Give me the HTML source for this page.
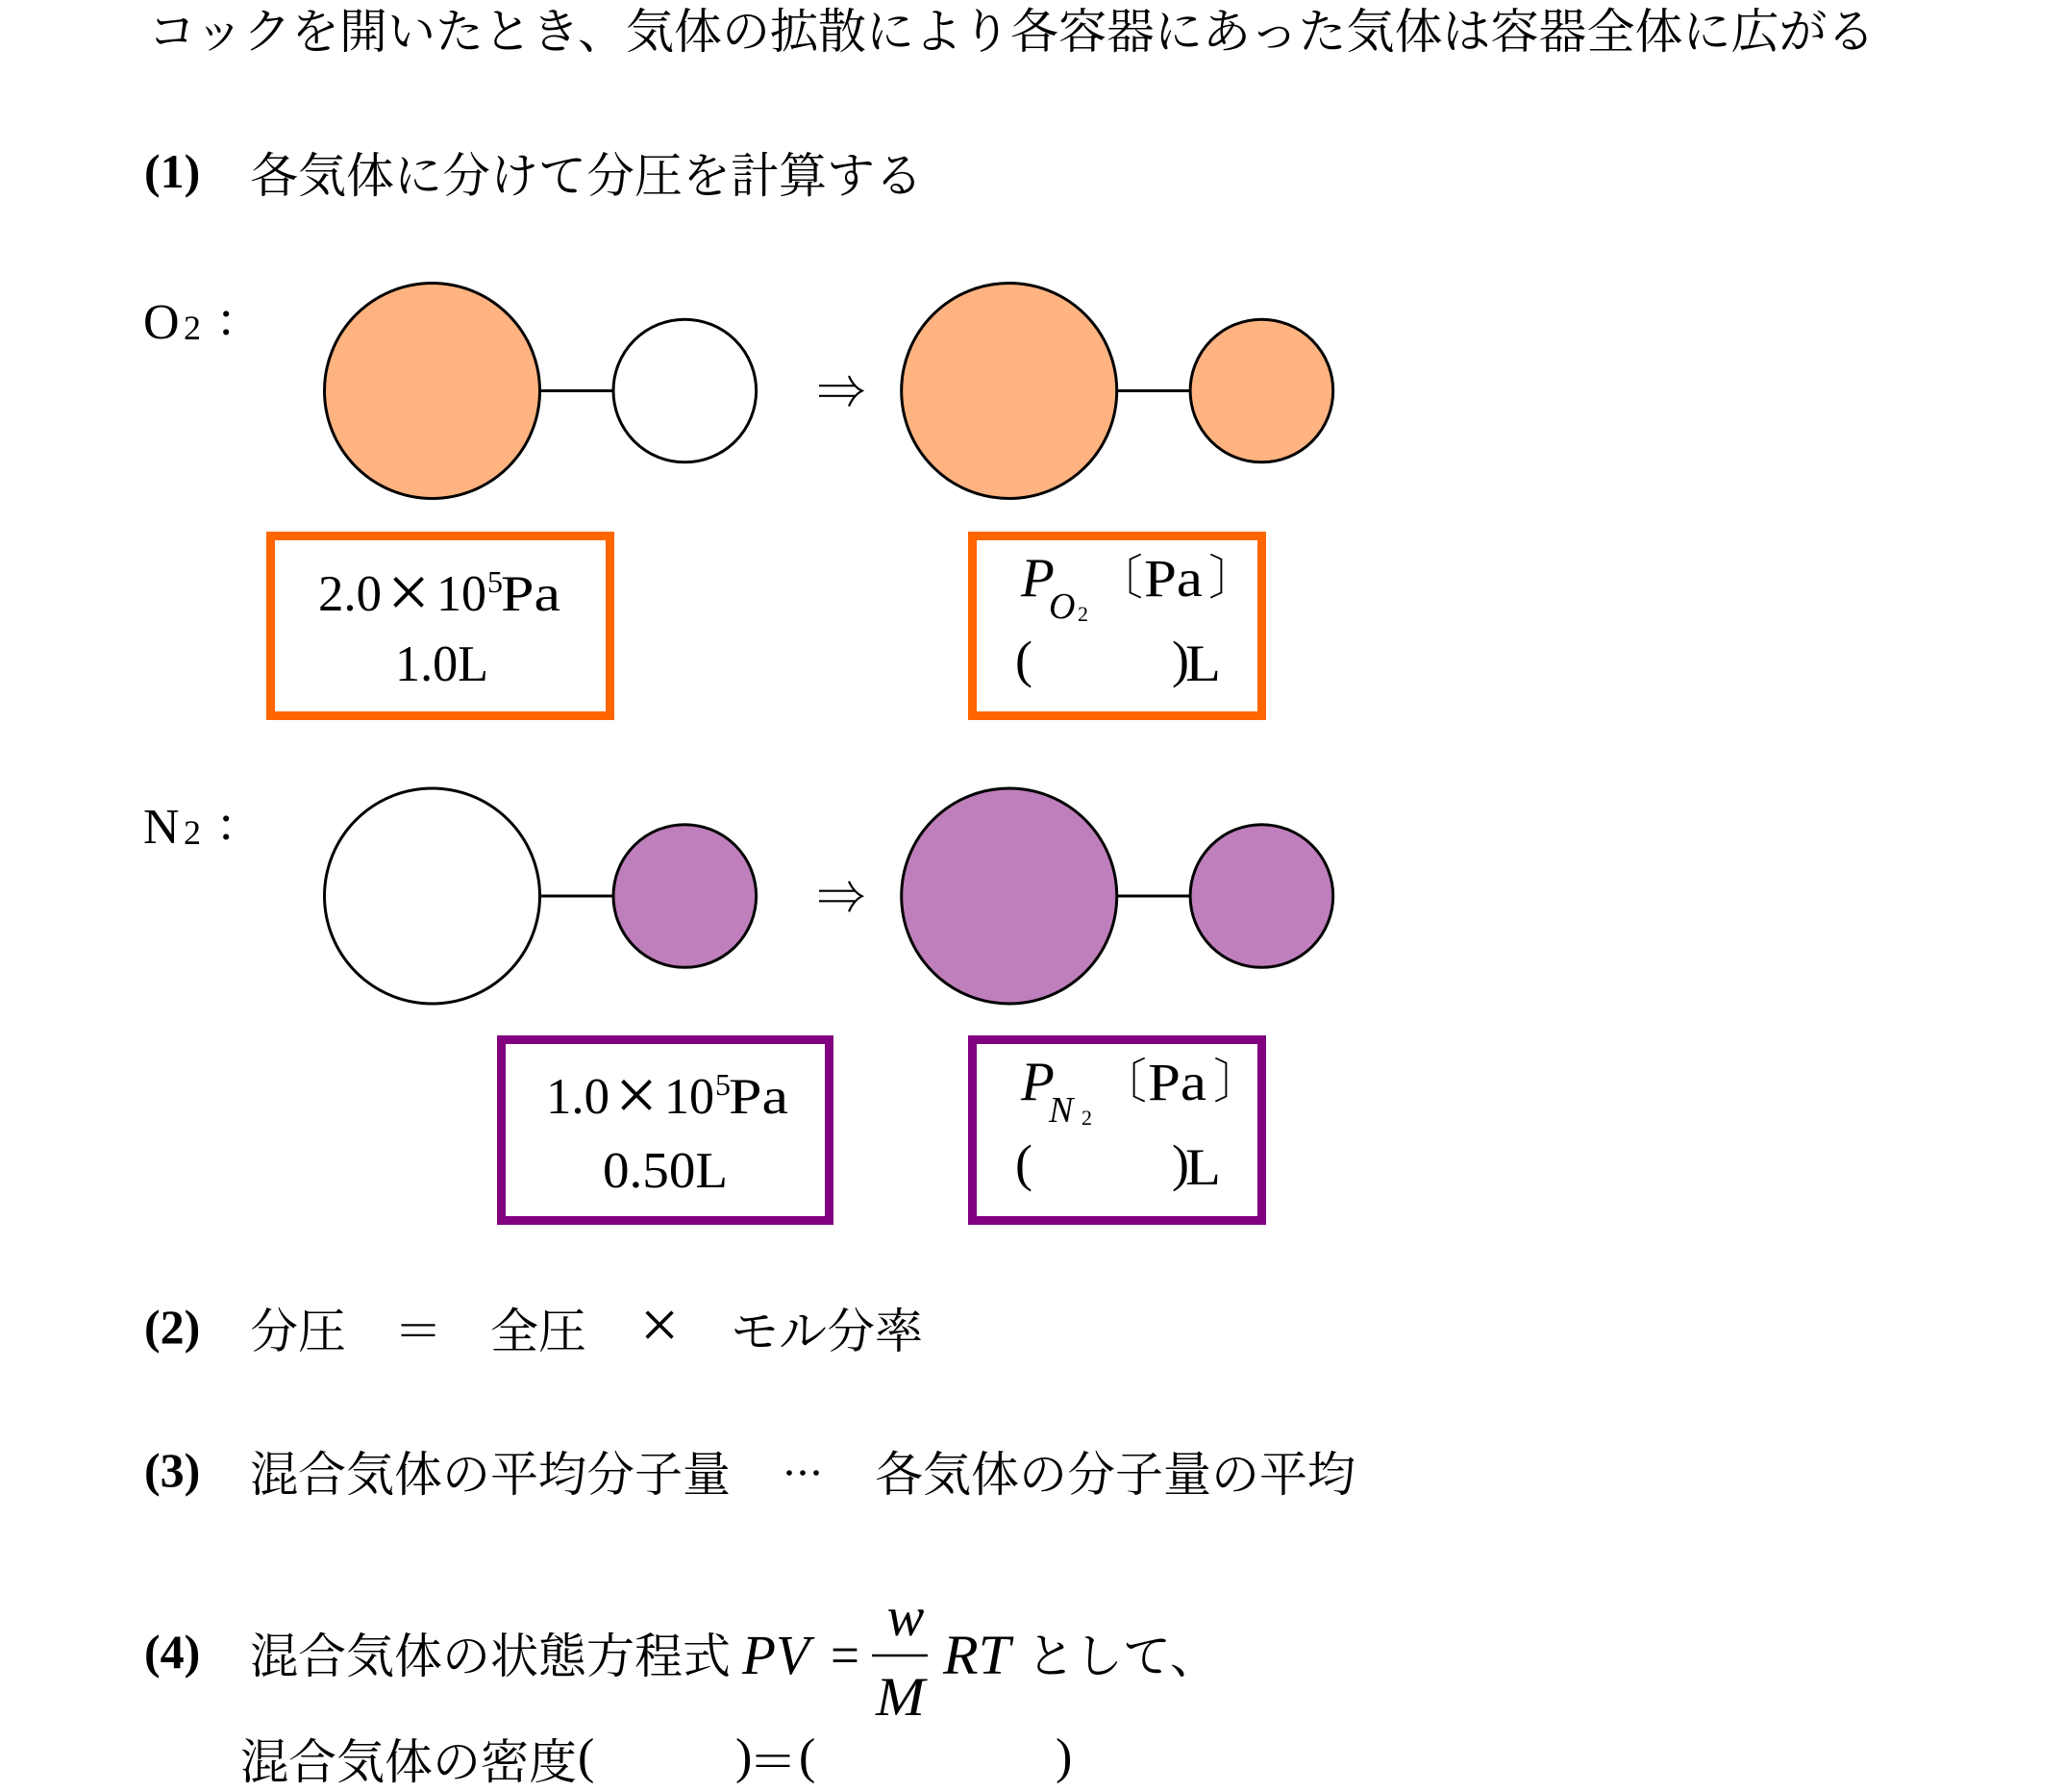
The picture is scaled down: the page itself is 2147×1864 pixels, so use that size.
<!DOCTYPE html>
<html>
<head>
<meta charset="utf-8">
<style>
html,body{margin:0;padding:0;background:#fff;}
svg{display:block;}
.s{font-family:"Liberation Serif","Noto Serif CJK JP","Noto Serif CJK SC",serif;fill:#000;}
.j{font-family:"Liberation Serif","Noto Serif CJK JP","IPAMincho","IPAPMincho","Noto Serif CJK SC",serif;font-size:50px;fill:#000;}
.i{font-family:"Liberation Serif","Noto Serif CJK SC",serif;font-style:italic;fill:#000;}
.b{font-family:"Liberation Serif","Noto Serif CJK SC",serif;font-weight:bold;font-size:50px;fill:#000;}
</style>
</head>
<body>
<svg width="2147" height="1864" viewBox="0 0 2147 1864" xmlns="http://www.w3.org/2000/svg">
<rect x="0" y="0" width="2147" height="1864" fill="#fff"/>

<!-- title -->
<text class="j" x="154" y="50">コックを開いたとき、気体の拡散により各容器にあった気体は容器全体に広がる</text>

<!-- (1) -->
<text class="b" x="150" y="195">(1)</text>
<text class="j" x="260" y="200">各気体に分けて分圧を計算する</text>

<!-- O2 label -->
<text class="s" x="149" y="352" font-size="52">O</text>
<text class="s" x="191" y="353" font-size="36">2</text>
<text class="s" x="228" y="348" font-size="52">:</text>

<!-- O2 row -->
<line x1="561" y1="406.5" x2="638" y2="406.5" stroke="#000" stroke-width="3"/>
<circle cx="449.5" cy="406.5" r="112" fill="#FFB380" stroke="#000" stroke-width="3"/>
<circle cx="712.3" cy="406.5" r="74.3" fill="#fff" stroke="#000" stroke-width="3"/>
<path d="M852 401.2 H889 M852 411.8 H889 M883 391 Q888 402.5 896.7 406.5 Q888 411 883 422.5" fill="none" stroke="#000" stroke-width="2.2"/>
<line x1="1161" y1="406.5" x2="1238" y2="406.5" stroke="#000" stroke-width="3"/>
<circle cx="1049.7" cy="406.5" r="112" fill="#FFB380" stroke="#000" stroke-width="3"/>
<circle cx="1312.4" cy="406.5" r="74.3" fill="#FFB380" stroke="#000" stroke-width="3"/>

<!-- O2 boxes -->
<rect x="281.5" y="557.5" width="353" height="187" fill="#fff" stroke="#FF6600" stroke-width="9"/>
<text class="s" x="331" y="635" font-size="53" textLength="66" lengthAdjust="spacingAndGlyphs">2.0</text>
<text class="s" x="425" y="642" font-size="78" text-anchor="middle">×</text>
<text class="s" x="454" y="635" font-size="53" textLength="52" lengthAdjust="spacingAndGlyphs">10</text>
<text class="s" x="507" y="616" font-size="32">5</text>
<text class="s" x="521" y="635" font-size="53" textLength="62" lengthAdjust="spacingAndGlyphs">Pa</text>
<text class="s" x="411" y="708" font-size="53" textLength="97" lengthAdjust="spacingAndGlyphs">1.0L</text>

<rect x="1011.5" y="557.5" width="301" height="187" fill="#fff" stroke="#FF6600" stroke-width="9"/>
<text class="i" x="1062" y="620" font-size="57">P</text>
<text class="i" x="1091" y="643" font-size="38">O</text>
<text class="s" x="1121" y="646" font-size="22">2</text>
<text class="j" x="1139" y="618" font-size="50">〔</text>
<text class="s" x="1190" y="620" font-size="55" textLength="61" lengthAdjust="spacingAndGlyphs">Pa</text>
<text class="j" x="1257" y="618" font-size="50">〕</text>
<text class="s" x="1056" y="704" font-size="54">(</text>
<text class="s" x="1219" y="704" font-size="54">)</text>
<text class="s" x="1233" y="708" font-size="54" textLength="37" lengthAdjust="spacingAndGlyphs">L</text>

<!-- N2 label -->
<text class="s" x="149" y="877" font-size="52">N</text>
<text class="s" x="191" y="878" font-size="36">2</text>
<text class="s" x="228" y="873" font-size="52">:</text>

<!-- N2 row -->
<line x1="561" y1="932" x2="638" y2="932" stroke="#000" stroke-width="3"/>
<circle cx="449.5" cy="932" r="112" fill="#fff" stroke="#000" stroke-width="3"/>
<circle cx="712.3" cy="932" r="74.3" fill="#BF7FBC" stroke="#000" stroke-width="3"/>
<path d="M852 926.7 H889 M852 937.3 H889 M883 916.7 Q888 928 896.7 932.2 Q888 936.5 883 948.3" fill="none" stroke="#000" stroke-width="2.2"/>
<line x1="1161" y1="932" x2="1238" y2="932" stroke="#000" stroke-width="3"/>
<circle cx="1049.7" cy="932" r="112" fill="#BF7FBC" stroke="#000" stroke-width="3"/>
<circle cx="1312.4" cy="932" r="74.3" fill="#BF7FBC" stroke="#000" stroke-width="3"/>

<!-- N2 boxes -->
<rect x="521.5" y="1081.5" width="341" height="188" fill="#fff" stroke="#800080" stroke-width="9"/>
<text class="s" x="568" y="1158" font-size="53" textLength="66" lengthAdjust="spacingAndGlyphs">1.0</text>
<text class="s" x="662" y="1165" font-size="78" text-anchor="middle">×</text>
<text class="s" x="691" y="1158" font-size="53" textLength="52" lengthAdjust="spacingAndGlyphs">10</text>
<text class="s" x="744" y="1139" font-size="32">5</text>
<text class="s" x="758" y="1158" font-size="53" textLength="62" lengthAdjust="spacingAndGlyphs">Pa</text>
<text class="s" x="627" y="1235" font-size="53" textLength="130" lengthAdjust="spacingAndGlyphs">0.50L</text>

<rect x="1011.5" y="1081.5" width="301" height="188" fill="#fff" stroke="#800080" stroke-width="9"/>
<text class="i" x="1062" y="1144" font-size="57">P</text>
<text class="i" x="1091" y="1167" font-size="38">N</text>
<text class="s" x="1125" y="1170" font-size="22">2</text>
<text class="j" x="1143" y="1142" font-size="50">〔</text>
<text class="s" x="1194" y="1144" font-size="55" textLength="61" lengthAdjust="spacingAndGlyphs">Pa</text>
<text class="j" x="1262" y="1142" font-size="50">〕</text>
<text class="s" x="1056" y="1228" font-size="54">(</text>
<text class="s" x="1219" y="1228" font-size="54">)</text>
<text class="s" x="1233" y="1232" font-size="54" textLength="37" lengthAdjust="spacingAndGlyphs">L</text>

<!-- (2) -->
<text class="b" x="150" y="1397">(2)</text>
<text class="j" x="260" y="1402">分圧　＝　全圧</text>
<text class="s" x="686" y="1402" font-size="72" text-anchor="middle">×</text>
<text class="j" x="760" y="1402">モル分率</text>

<!-- (3) -->
<text class="b" x="150" y="1546">(3)</text>
<text class="j" x="260" y="1551">混合気体の平均分子量</text>
<circle cx="821" cy="1532" r="2.8" fill="#000"/>
<circle cx="835" cy="1532" r="2.8" fill="#000"/>
<circle cx="849" cy="1532" r="2.8" fill="#000"/>
<text class="j" x="910" y="1551">各気体の分子量の平均</text>

<!-- (4) -->
<text class="b" x="150" y="1735">(4)</text>
<text class="j" x="260" y="1740">混合気体の状態方程式</text>
<text class="i" x="772" y="1741" font-size="58" textLength="70" lengthAdjust="spacingAndGlyphs">PV</text>
<text class="s" x="864" y="1741" font-size="57" textLength="30" lengthAdjust="spacingAndGlyphs">=</text>
<line x1="907" y1="1722" x2="965" y2="1722" stroke="#000" stroke-width="2.5"/>
<text class="i" x="942" y="1701" font-size="58" text-anchor="middle">w</text>
<text class="i" x="911" y="1784" font-size="57" textLength="51" lengthAdjust="spacingAndGlyphs">M</text>
<text class="i" x="981" y="1741" font-size="58" textLength="70" lengthAdjust="spacingAndGlyphs">RT</text>
<text class="j" x="1068" y="1740">として、</text>

<!-- last line -->
<text class="j" x="250" y="1850">混合気体の密度</text>
<text class="s" x="601" y="1844" font-size="52">(</text>
<text class="s" x="765" y="1844" font-size="52">)</text>
<text class="j" x="779" y="1850">＝</text>
<text class="s" x="831" y="1844" font-size="52">(</text>
<text class="s" x="1098" y="1844" font-size="52">)</text>
</svg>
</body>
</html>
